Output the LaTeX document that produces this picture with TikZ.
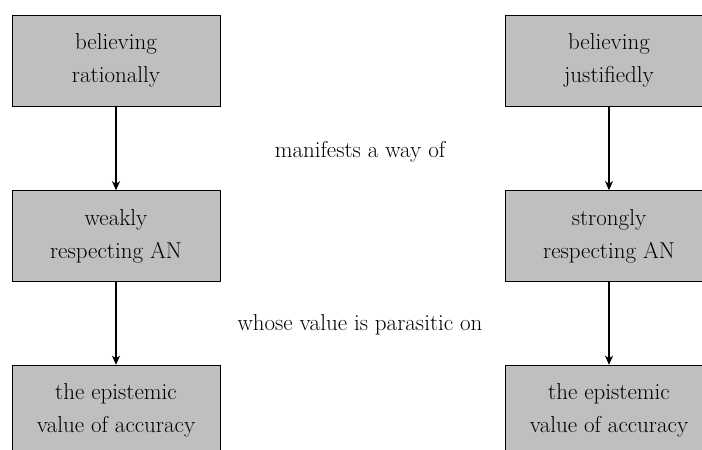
\documentclass[tikz,border=0pt]{standalone}
\usepackage{amsmath}
\usetikzlibrary{math, arrows.meta}
\tikzset{box/.style={draw=black, fill=black!25, line width=0.6pt, minimum width=208pt, minimum height=91pt, align=center, inner sep=0pt, font=\fontsize{23}{33}\selectfont},
  lbl/.style={font=\fontsize{23}{33}\selectfont},
  link/.style={-{Stealth[length=9pt, width=8pt, inset=2.5pt]}, line width=1.1pt}}

\begin{document}
\begin{tikzpicture}[x=1pt,y=-1pt]
      \tikzmath{\l = 116; \r = 609; \m = 360; \ya = 60.5; \yb = 236; \yc = 410.5;}
      \useasboundingbox (0,0) rectangle (702,450);
      \node[box] (ratl) at (\l,\ya) {believing\\rationally};
      \node[box] (just) at (\r,\ya) {believing\\justifiedly};
      \node[box] (weak) at (\l,\yb) {weakly\\respecting AN};
      \node[box] (strong) at (\r,\yb) {strongly\\respecting AN};
      \node[box] (accl) at (\l,\yc) {the epistemic\\value of accuracy};
      \node[box] (accr) at (\r,\yc) {the epistemic\\value of accuracy};
      \node[lbl] (way) at (\m,152) {manifests a way of};
      \node[lbl] (par) at (\m,325) {whose value is parasitic on};
      \draw[link] (ratl) -- (weak);
      \draw[link] (weak) -- (accl);
      \draw[link] (just) -- (strong);
      \draw[link] (strong) -- (accr);
\end{tikzpicture}
\end{document}
